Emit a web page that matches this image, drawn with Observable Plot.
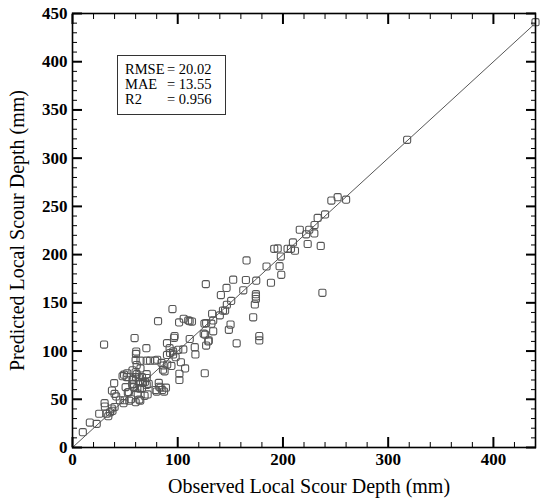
<!DOCTYPE html>
<html>
<head>
<meta charset="utf-8">
<script src="https://cdn.jsdelivr.net/npm/d3@7"></script>
<script src="https://cdn.jsdelivr.net/npm/@observablehq/plot@0.6"></script>
<style>
  html, body { margin: 0; padding: 0; background: #fff; }
  #wrap { position: relative; width: 544px; height: 501px; font-family: "Liberation Serif", "Times New Roman", serif; }
  #stats { position: absolute; left: 117px; top: 55px; width: 109px; height: 60px; border: 1px solid #333;
           box-sizing: border-box; padding: 6px 0 0 7px; font-size: 14.5px; line-height: 15px; color: #000; background: #fff; }
  #stats .row { display: flex; white-space: pre; }
  #stats .k { width: 42px; }
</style>
</head>
<body>
<div id="wrap"><div id="stats"></div></div>
<script>
const observed = [9.8,16.5,23,25.4,30,30.5,30.8,32.5,34,35.6,37.5,39.6,40,41.5,40,45,47.6,49,48.5,49.5,
  50.5,51.5,52,52.6,54,55.6,56.8,57.6,57,59,60,60.3,60.6,61,60,61.6,62,63,64,64.4,
  64.6,66,66,67,68.5,70.2,70.5,70.5,70.5,72.4,71.4,73.7,78.5,79,80.5,81.3,82,82.5,83.7,84.6,
  85.3,86,86.5,87.5,88.8,89.8,90,89.8,92.3,92.7,94,95,95.6,95.6,96.5,97,98,100.5,101.3,101.6,
  101.6,103,105.3,105.7,107,110,111.3,113.5,111.4,116.2,116.8,125.7,126.7,125.4,127,126,127,129.5,132,132.7,
  133.7,133.7,140,141,143,145,146.4,146.7,148.6,150.2,150.8,152.7,156,162.3,164.8,165.4,171.7,173.3,174.3,174.3,
  174.3,174.6,177.5,177.5,184.4,188.6,191.7,195,196.8,198.4,198,204.4,207.6,209.5,211.4,216,222,225,229.8,223.5,
  235.9,237.5,230,233,240,246,252,260,318,440,
  58,58.4,61,64,69,70.5,63.5,38,37.4,64.6,60,60.3,53.5,57,80,87,129,124.7];
const predicted = [15.9,25.8,24.5,35,106.7,46,42.5,35,32.5,36.5,59,66.7,55.6,53,42,49,74,75.5,46,49,
  62.6,73,77,57,48.5,50,65.4,70.6,80,113.5,78,73,99.5,85.5,47,61.6,56,72.6,61,48.6,
  82,73,61.6,67,53.6,103,90,72,65,66,55,90,90,59.6,91,131,67,63,62,87.7,
  59.6,80.6,85,79,62,108.2,86,96,103,98,84.6,143.5,99.6,96.5,113.7,115.5,93.7,101.3,129.7,76.5,
  70,88.4,101.7,133.5,82,131.8,131,130.6,112.5,104,96.5,77,169.4,128.4,129,117,105.7,111,128.4,138.7,
  120.5,131.8,137,158,142,142,165.5,148,122,127.5,152,174,108,163,173.7,194,135,148.3,159,156.6,
  154,173,115.5,111,187.7,170.8,206,206.4,188,179,198,206,206,212.6,204,225.8,221,225.8,222,211,
  209,160.4,230.6,238,241.7,256,259.6,257,319,441,
  66,62.5,76,68,68,76,49.7,38,40.4,90,90.6,97,57.5,70,58,58,110,118];
const lineObserved = [0, 440];
const linePredicted = [0, 440];
const xTicks = [0, 100, 200, 300, 400];
const yTicks = [0, 50, 100, 150, 200, 250, 300, 350, 400, 450];
const statNames = ["RMSE", "MAE", "R2"];
const statValues = ["20.02", "13.55", "0.956"];
const xTitle = "Observed Local Scour Depth (mm)";
const yTitle = "Predicted Local Scour Depth (mm)";

const points = observed.map((o, i) => ({o, p: predicted[i]}));
const line = lineObserved.map((o, i) => ({o, p: linePredicted[i]}));
const xMinor = d3.range(0, 441, 20).filter(v => v % 100 !== 0);
const yMinor = d3.range(0, 451, 10).filter(v => v % 50 !== 0);
const font = "Liberation Serif";
const blank = () => "";

// rounded square marker
const roundSquare = {
  draw(context, size) {
    const h = Math.sqrt(size) / 2, c = 1.6;
    context.moveTo(-h + c, -h);
    context.lineTo(h - c, -h);
    context.arcTo(h, -h, h, -h + c, c);
    context.lineTo(h, h - c);
    context.arcTo(h, h, h - c, h, c);
    context.lineTo(-h + c, h);
    context.arcTo(-h, h, -h, h - c, c);
    context.lineTo(-h, -h + c);
    context.arcTo(-h, -h, -h + c, -h, c);
    context.closePath();
  }
};

const tickAxes = [];
for (const anchor of ["bottom", "top"]) {
  tickAxes.push(Plot.axisX(xTicks, {anchor, tickSize: -10, strokeWidth: 2, tickFormat: blank, label: null}));
  tickAxes.push(Plot.axisX(xMinor, {anchor, tickSize: -5, strokeWidth: 1, tickFormat: blank, label: null}));
}
for (const anchor of ["left", "right"]) {
  tickAxes.push(Plot.axisY(yTicks, {anchor, tickSize: -10, strokeWidth: 2, tickFormat: blank, label: null}));
  tickAxes.push(Plot.axisY(yMinor, {anchor, tickSize: -5, strokeWidth: 1, tickFormat: blank, label: null}));
}

const chart = Plot.plot({
  width: 544,
  height: 501,
  marginLeft: 72,
  marginRight: 9,
  marginTop: 13,
  marginBottom: 54,
  style: {fontFamily: font, background: "white", color: "black"},
  x: {domain: [0, 440]},
  y: {domain: [0, 450]},
  marks: [
    Plot.line(line, {x: "o", y: "p", stroke: "#444", strokeWidth: 0.9}),
    Plot.dot(points, {x: "o", y: "p", symbol: roundSquare, r: 4, stroke: "#555", strokeWidth: 1.1, fill: "none"}),
    ...tickAxes,
    Plot.axisX(xTicks, {anchor: "bottom", tickSize: 0, tickPadding: 5, fontSize: 17, fontWeight: "bold", label: null}),
    Plot.axisY(yTicks, {anchor: "left", tickSize: 0, tickPadding: 5, fontSize: 17, fontWeight: "bold", label: null}),
    Plot.frame({stroke: "black", strokeWidth: 1.6}),
    Plot.text([xTitle], {frameAnchor: "bottom", dx: 5, dy: 39, lineAnchor: "middle", textAnchor: "middle", fontSize: 20, text: d => d, fill: "black"}),
    Plot.text([yTitle], {frameAnchor: "left", dx: -55, rotate: -90, lineAnchor: "middle", textAnchor: "middle", fontSize: 20, text: d => d, fill: "black"})
  ]
});
document.getElementById("wrap").prepend(chart);

const stats = document.getElementById("stats");
statNames.forEach((n, i) => {
  const row = document.createElement("div");
  row.className = "row";
  const k = document.createElement("span"); k.className = "k"; k.textContent = n;
  const v = document.createElement("span"); v.textContent = "= " + statValues[i];
  row.append(k, v);
  stats.append(row);
});
</script>
</body>
</html>
